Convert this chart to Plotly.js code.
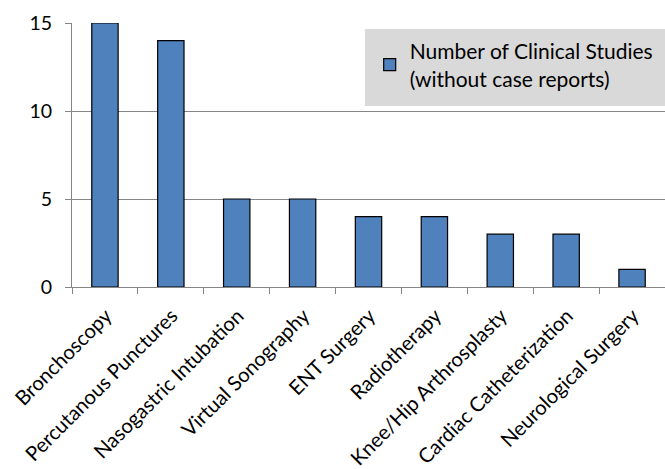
<!DOCTYPE html>
<html>
<head>
<meta charset="utf-8">
<script src="https://cdn.plot.ly/plotly-3.0.1.min.js"></script>
<style>html,body{margin:0;padding:0;background:#fff;}#chart{width:665px;height:469px;}</style>
</head>
<body>
<div id="chart"></div>
<script>
const categories = ["Bronchoscopy","Percutanous Punctures","Nasogastric Intubation","Virtual Sonography","ENT Surgery","Radiotherapy","Knee/Hip Arthrosplasty","Cardiac Catheterization","Neurological Surgery"];
const studies = [15, 14, 5, 5, 4, 4, 3, 3, 1];
const seriesName = "Number of Clinical Studies<br>(without case reports)";
const yTicks = [0, 5, 10, 15];

const trace = {
  type: "bar",
  x: categories,
  y: studies,
  name: seriesName,
  showlegend: true,
  marker: {color: "#4f81bd", line: {color: "#000000", width: 1.2}},
  width: 0.4,
  hoverinfo: "x+y"
};

const layout = {
  width: 665, height: 469,
  margin: {l: 72, r: 0, t: 23, b: 182},
  paper_bgcolor: "#ffffff",
  plot_bgcolor: "#ffffff",
  font: {family: "Lato, 'Open Sans', sans-serif", size: 19, color: "#000000"},
  showlegend: true,
  shapes: [{
    type: "rect", xref: "paper", yref: "paper",
    x0: 0.494, x1: 1.01, y0: 0.686, y1: 0.977,
    fillcolor: "#d9d9d9", line: {width: 0}, layer: "above"
  }],
  legend: {
    x: 0.502, xanchor: "left", y: 0.97, yanchor: "top",
    bgcolor: "rgba(0,0,0,0)",
    font: {size: 21},
    itemwidth: 30,
    traceorder: "normal"
  },
  xaxis: {
    type: "category",
    tickangle: -45,
    showline: true, linecolor: "#868686", linewidth: 1,
    ticks: "outside", ticklen: 6, tickcolor: "#868686",
    tickson: "boundaries",
    showgrid: false,
    tickfont: {size: 20.3},
    ticklabelstandoff: 8,
    ticklabelshift: 1,
    range: [-0.5, categories.length - 0.5]
  },
  yaxis: {
    range: [0, 15],
    tickvals: yTicks,
    ticktext: yTicks.map(String),
    showline: true, linecolor: "#868686", linewidth: 1,
    ticks: "outside", ticklen: 6, tickcolor: "#868686",
    showgrid: true, gridcolor: "#868686", gridwidth: 1,
    zeroline: false,
    tickfont: {size: 19.5},
    ticklabelstandoff: 9
  }
};

Plotly.newPlot("chart", [trace], layout, {displayModeBar: false, staticPlot: true});
</script>
</body>
</html>
